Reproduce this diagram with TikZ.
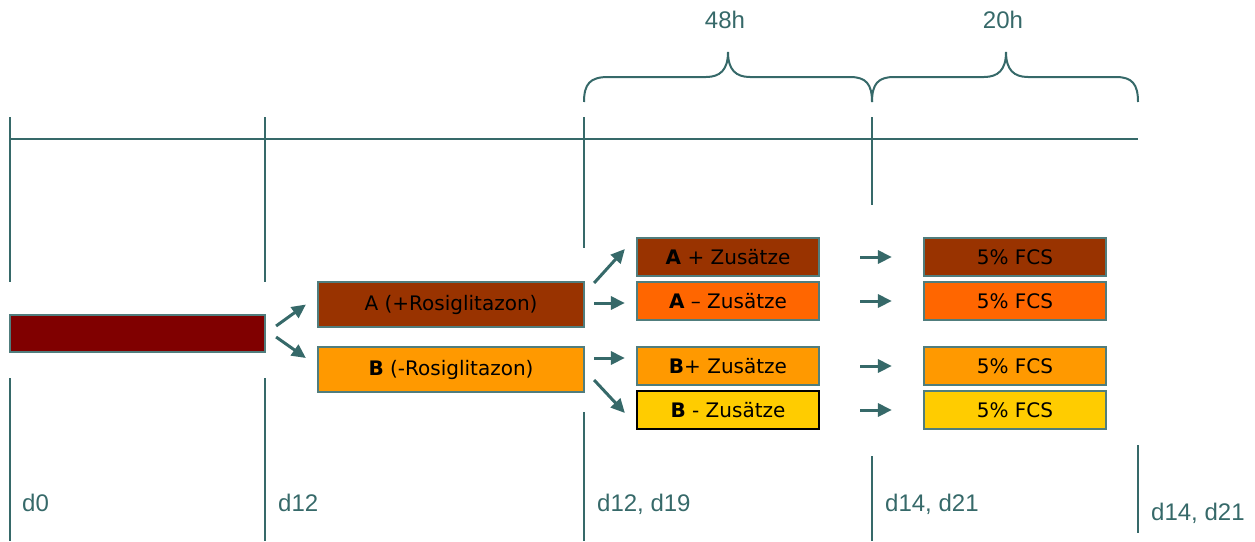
\documentclass[tikz,border=0pt]{standalone}
\usepackage{fontspec}
\setmainfont{Liberation Sans}
\newfontfamily\boxfont{DejaVu Sans}
\usetikzlibrary{arrows.meta,calc}
\definecolor{teal1}{RGB}{54,105,105}
\definecolor{bordr}{RGB}{80,125,125}
\definecolor{maroon1}{HTML}{800000}
\definecolor{brown1}{HTML}{993300}
\definecolor{orange1}{HTML}{FF6600}
\definecolor{orange2}{HTML}{FF9900}
\definecolor{gold1}{HTML}{FFCC00}
\tikzset{
  tline/.style={draw=teal1, line width=2pt},
  boxn/.style={draw=bordr, line width=2.2pt, inner sep=0pt, font=\boxfont\fontsize{20}{24}\selectfont, text=black},
  bigbox/.style={boxn, minimum width=266pt, minimum height=45pt},
  smallbox/.style={boxn, minimum width=182pt, minimum height=38pt},
  arr/.style={draw=teal1, line width=3pt, -{Triangle[length=14pt,width=13pt]}},
  lbl/.style={text=teal1, font=\fontsize{24}{28}\selectfont, inner sep=0pt, anchor=base west},
}
\begin{document}
\begin{tikzpicture}[x=1pt,y=-1pt]
\useasboundingbox (0,0) rectangle (1255,541);
% timeline
\draw[tline] (10,139) -- (1138,139);
\draw[tline] (10,117) -- (10,282);
\draw[tline] (10,378) -- (10,541);
\draw[tline] (265,117) -- (265,282);
\draw[tline] (265,378) -- (265,541);
\draw[tline] (584,117) -- (584,248);
\draw[tline] (584,412) -- (584,541);
\draw[tline] (872,117) -- (872,205);
\draw[tline] (872,456) -- (872,541);
\draw[tline] (1138,445) -- (1138,533);
% braces
\draw[teal1, line width=2pt] (584,102) .. controls (584,84) and (590,77) .. (608,77) -- (706,77)
  .. controls (720,77) and (728,70) .. (728,52) .. controls (728,70) and (736,77) .. (750,77)
  -- (850,77) .. controls (866,77) and (872,84) .. (872,102);
\draw[teal1, line width=2pt] (872,102) .. controls (872,84) and (878,77) .. (894,77) -- (984,77)
  .. controls (998,77) and (1006,70) .. (1006,52) .. controls (1006,70) and (1014,77) .. (1028,77)
  -- (1116,77) .. controls (1132,77) and (1138,84) .. (1138,102);
\node[lbl, anchor=base] (h48) at (725,28) {48h};
\node[lbl, anchor=base] (h20) at (1003,28) {20h};
% boxes
\node[boxn, fill=maroon1, minimum width=255pt, minimum height=37pt] (init) at (137.5,333.5) {};
\node[bigbox, fill=brown1] (A) at (451,304.5) {A (+Rosiglitazon)};
\node[bigbox, fill=orange2] (B) at (451,369.5) {\textbf{B} (-Rosiglitazon)};
\node[smallbox, fill=brown1] (Ap) at (728,257) {\textbf{A} + Zusätze};
\node[smallbox, fill=orange1] (Am) at (728,301) {\textbf{A} – Zusätze};
\node[smallbox, fill=orange2] (Bp) at (728,366) {\textbf{B}+ Zusätze};
\node[smallbox, fill=gold1, draw=black] (Bm) at (728,410) {\textbf{B} - Zusätze};
\node[smallbox, fill=brown1] (F1) at (1015,257) {5\% FCS};
\node[smallbox, fill=orange1] (F2) at (1015,301) {5\% FCS};
\node[smallbox, fill=orange2] (F3) at (1015,366) {5\% FCS};
\node[smallbox, fill=gold1] (F4) at (1015,410) {5\% FCS};
% arrows
\draw[arr] ($(init.east)+(10,-7.5)$) -- ($(A.west)+(-11,0)$);
\draw[arr] ($(init.east)+(10,3.5)$) -- ($(B.west)+(-11,-11.5)$);
\draw[arr] ($(A.east)+(9,-21.5)$) -- ($(Ap.west)+(-11,-8)$);
\draw[arr] ($(A.east)+(9,-1.5)$) -- ($(Am.west)+(-11,2)$);
\draw[arr] ($(B.east)+(9,-11.5)$) -- ($(Bp.west)+(-11,-8)$);
\draw[arr] ($(B.east)+(9,10.5)$) -- ($(Bm.west)+(-11,3)$);
\draw[arr] ($(Ap.east)+(40,0)$) -- ($(F1.west)+(-31,0)$);
\draw[arr] ($(Am.east)+(40,0)$) -- ($(F2.west)+(-31,0)$);
\draw[arr] ($(Bp.east)+(40,0)$) -- ($(F3.west)+(-31,0)$);
\draw[arr] ($(Bm.east)+(40,0)$) -- ($(F4.west)+(-31,0)$);
% labels
\node[lbl] (l0) at (22,511) {d0};
\node[lbl] (l1) at (278,511) {d12};
\node[lbl] (l2) at (597,511) {d12, d19};
\node[lbl] (l3) at (885,511) {d14, d21};
\node[lbl] (l4) at (1151,520) {d14, d21};
\end{tikzpicture}
\end{document}
